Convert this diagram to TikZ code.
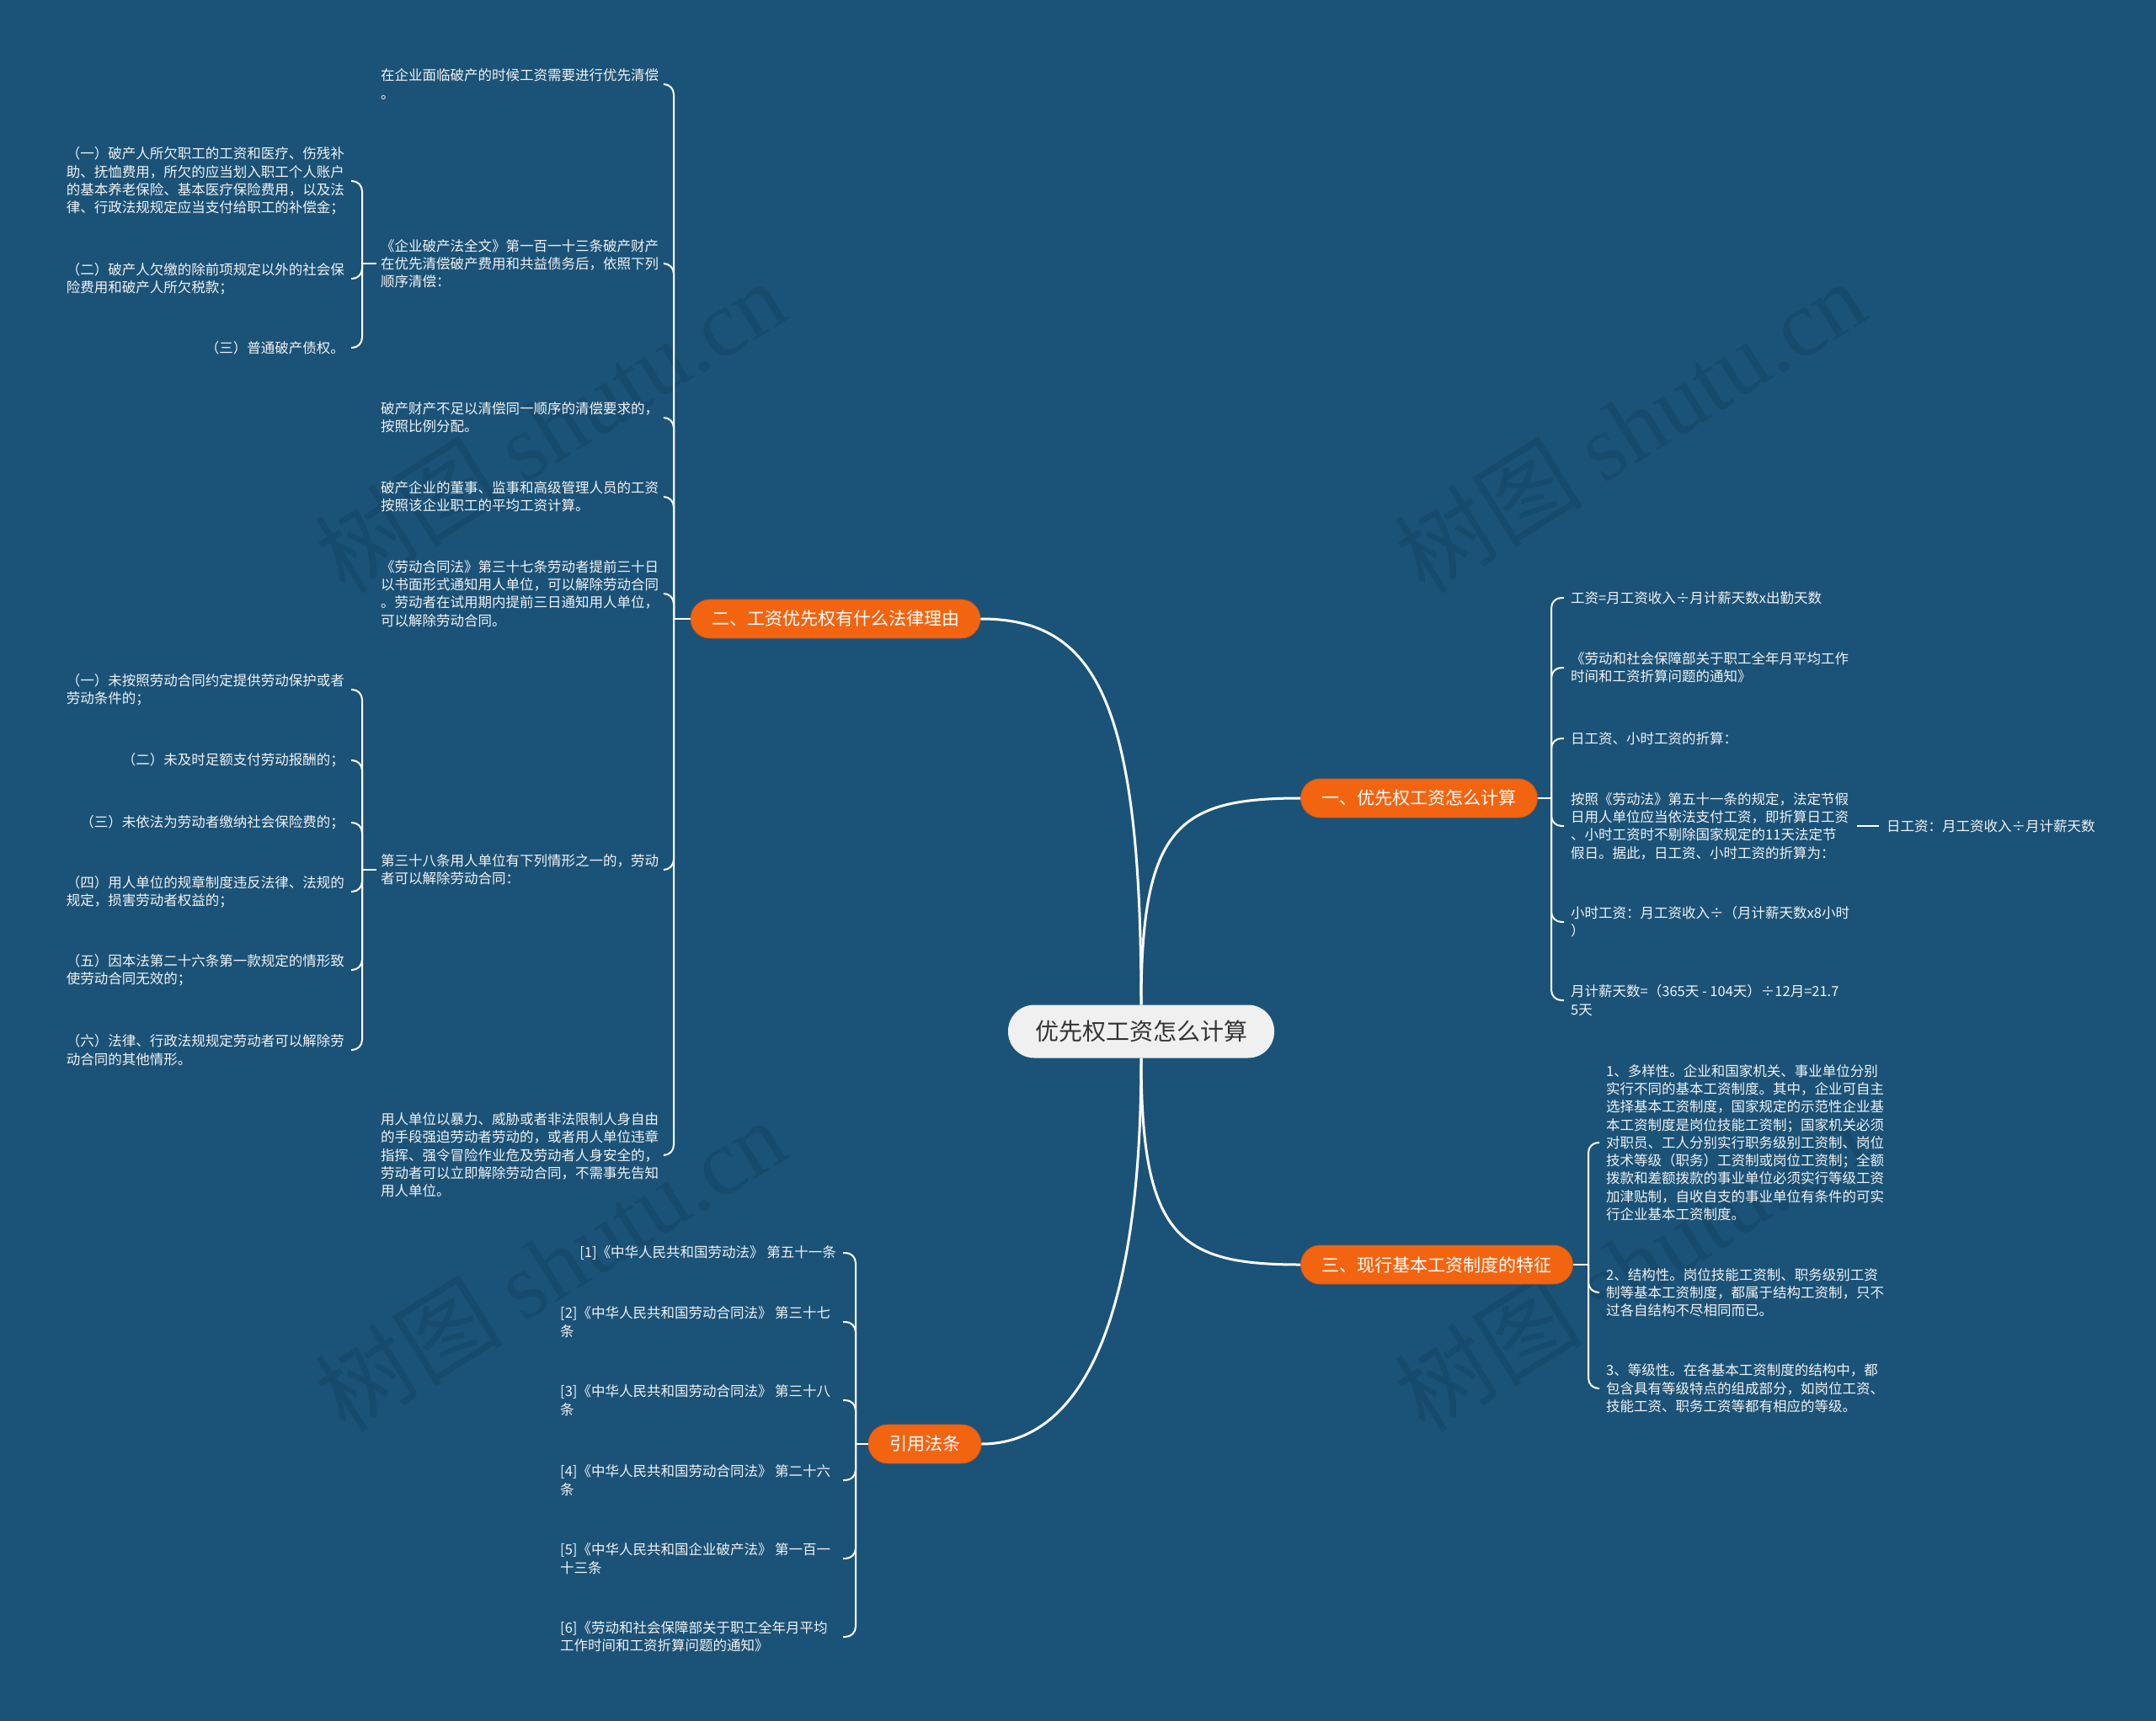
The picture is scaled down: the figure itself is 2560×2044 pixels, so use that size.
\documentclass[tikz,border=0pt]{standalone}
\usepackage{fontspec}
\setmainfont{Noto Sans CJK SC}
\newfontfamily\wmlatin{Liberation Serif}
\definecolor{bg}{RGB}{27,83,120}
\definecolor{org}{RGB}{243,100,17}
\definecolor{ctrfill}{RGB}{240,240,240}
\definecolor{ctrtext}{RGB}{51,51,51}
\definecolor{leaftext}{RGB}{242,242,242}
\definecolor{wm}{RGB}{23,75,110}
\begin{document}
\begin{tikzpicture}[x=1pt,y=-1pt,
  leaf/.style={inner sep=0pt, align=left, text=leaftext, font=\fontsize{16.5}{21.3}\selectfont},
  branch/.style={fill=org, draw=org!88!black, line width=0.8pt, text=white, rounded corners=23pt, minimum height=46pt, inner xsep=25pt, inner ysep=0pt, font=\fontsize{21}{25}\selectfont},
  ctrbox/.style={fill=ctrfill, text=ctrtext, rounded corners=31pt, minimum height=63pt, inner xsep=32pt, inner ysep=0pt, font=\fontsize{28}{32}\selectfont},
  mainline/.style={draw=white, line width=3pt},
  subline/.style={draw=white, line width=2pt},
  brace/.style={draw=white, line width=2pt, rounded corners=12pt},
  wmark/.style={text=wm, rotate=32, font=\fontsize{112}{114}\selectfont}
]
\useasboundingbox (0,0) rectangle (2560,2044);
\fill[bg] (0,0) rectangle (2560,2044);

% watermarks
\node[wmark] (w1) at (653,506) {树图 {\wmlatin shutu.cn}};
\node[wmark] (w2) at (1935,506) {树图 {\wmlatin shutu.cn}};
\node[wmark] (w3) at (653,1502) {树图 {\wmlatin shutu.cn}};
\node[wmark] (w4) at (1935,1502) {树图 {\wmlatin shutu.cn}};

% central and branch nodes
\node[ctrbox] (C) at (1355,1225) {优先权工资怎么计算};
\node[branch] (b1) at (1685,948) {一、优先权工资怎么计算};
\node[branch] (b2) at (992,735) {二、工资优先权有什么法律理由};
\node[branch] (b3) at (1706,1502) {三、现行基本工资制度的特征};
\node[branch] (b4) at (1098,1715) {引用法条};

% branch 2 children
\node[leaf, anchor=west] (c21) at (452,100) {在企业面临破产的时候工资需要进行优先清偿\\。};
\node[leaf, anchor=west] (c22) at (452,313) {《企业破产法全文》第一百一十三条破产财产\\在优先清偿破产费用和共益债务后，依照下列\\顺序清偿：};
\node[leaf, anchor=west] (c23) at (452,496) {破产财产不足以清偿同一顺序的清偿要求的，\\按照比例分配。};
\node[leaf, anchor=west] (c24) at (452,590) {破产企业的董事、监事和高级管理人员的工资\\按照该企业职工的平均工资计算。};
\node[leaf, anchor=west] (c25) at (452,705) {《劳动合同法》第三十七条劳动者提前三十日\\以书面形式通知用人单位，可以解除劳动合同\\。劳动者在试用期内提前三日通知用人单位，\\可以解除劳动合同。};
\node[leaf, anchor=west] (c26) at (452,1033) {第三十八条用人单位有下列情形之一的，劳动\\者可以解除劳动合同：};
\node[leaf, anchor=west] (c27) at (452,1372) {用人单位以暴力、威胁或者非法限制人身自由\\的手段强迫劳动者劳动的，或者用人单位违章\\指挥、强令冒险作业危及劳动者人身安全的，\\劳动者可以立即解除劳动合同，不需事先告知\\用人单位。};

% grandchildren of c22
\node[leaf, anchor=east] (g1) at (409,215) {（一）破产人所欠职工的工资和医疗、伤残补\\助、抚恤费用，所欠的应当划入职工个人账户\\的基本养老保险、基本医疗保险费用，以及法\\律、行政法规规定应当支付给职工的补偿金；};
\node[leaf, anchor=east] (g2) at (409,331) {（二）破产人欠缴的除前项规定以外的社会保\\险费用和破产人所欠税款；};
\node[leaf, anchor=east] (g3) at (409,413) {（三）普通破产债权。};

% grandchildren of c26
\node[leaf, anchor=east] (h1) at (409,819) {（一）未按照劳动合同约定提供劳动保护或者\\劳动条件的；};
\node[leaf, anchor=east] (h2) at (409,903) {（二）未及时足额支付劳动报酬的；};
\node[leaf, anchor=east] (h3) at (409,977) {（三）未依法为劳动者缴纳社会保险费的；};
\node[leaf, anchor=east] (h4) at (409,1059) {（四）用人单位的规章制度违反法律、法规的\\规定，损害劳动者权益的；};
\node[leaf, anchor=east] (h5) at (409,1152) {（五）因本法第二十六条第一款规定的情形致\\使劳动合同无效的；};
\node[leaf, anchor=east] (h6) at (409,1247) {（六）法律、行政法规规定劳动者可以解除劳\\动合同的其他情形。};

% branch 4 children
\node[leaf, anchor=east] (r1) at (993,1488) {[1]《中华人民共和国劳动法》 第五十一条};
\node[leaf, anchor=west] (r2) at (665,1570) {[2]《中华人民共和国劳动合同法》 第三十七\\条};
\node[leaf, anchor=west] (r3) at (665,1663) {[3]《中华人民共和国劳动合同法》 第三十八\\条};
\node[leaf, anchor=west] (r4) at (665,1758) {[4]《中华人民共和国劳动合同法》 第二十六\\条};
\node[leaf, anchor=west] (r5) at (665,1851) {[5]《中华人民共和国企业破产法》 第一百一\\十三条};
\node[leaf, anchor=west] (r6) at (665,1944) {[6]《劳动和社会保障部关于职工全年月平均\\工作时间和工资折算问题的通知》};

% branch 1 children
\node[leaf, anchor=west] (a1) at (1865,710) {工资=月工资收入÷月计薪天数x出勤天数};
\node[leaf, anchor=west] (a2) at (1865,793) {《劳动和社会保障部关于职工全年月平均工作\\时间和工资折算问题的通知》};
\node[leaf, anchor=west] (a3) at (1865,877) {日工资、小时工资的折算：};
\node[leaf, anchor=west] (a4) at (1865,981) {按照《劳动法》第五十一条的规定，法定节假\\日用人单位应当依法支付工资，即折算日工资\\、小时工资时不剔除国家规定的11天法定节\\假日。据此，日工资、小时工资的折算为：};
\node[leaf, anchor=west] (a5) at (1865,1095) {小时工资：月工资收入÷（月计薪天数x8小时\\）};
\node[leaf, anchor=west] (a6) at (1865,1188) {月计薪天数=（365天 - 104天）÷12月=21.7\\5天};
\node[leaf, anchor=west] (d1) at (2240,981) {日工资：月工资收入÷月计薪天数};

% branch 3 children
\node[leaf, anchor=west] (t1) at (1907,1357) {1、多样性。企业和国家机关、事业单位分别\\实行不同的基本工资制度。其中，企业可自主\\选择基本工资制度，国家规定的示范性企业基\\本工资制度是岗位技能工资制；国家机关必须\\对职员、工人分别实行职务级别工资制、岗位\\技术等级（职务）工资制或岗位工资制；全额\\拨款和差额拨款的事业单位必须实行等级工资\\加津贴制，自收自支的事业单位有条件的可实\\行企业基本工资制度。};
\node[leaf, anchor=west] (t2) at (1907,1535) {2、结构性。岗位技能工资制、职务级别工资\\制等基本工资制度，都属于结构工资制，只不\\过各自结构不尽相同而已。};
\node[leaf, anchor=west] (t3) at (1907,1649) {3、等级性。在各基本工资制度的结构中，都\\包含具有等级特点的组成部分，如岗位工资、\\技能工资、职务工资等都有相应的等级。};

% junction coordinates
\coordinate (j2) at (800,735);
\coordinate (jg) at (430,313);
\coordinate (jh) at (430,1033);
\coordinate (j4) at (1016,1715);
\coordinate (j1) at (1842,948);
\coordinate (j3) at (1886,1502);

% main connectors
\draw[mainline] (C.north) .. controls (1355,830) and (1300,735) .. (b2.east);
\draw[mainline] (C.north) .. controls (1355,980) and (1400,948) .. (b1.west);
\draw[mainline] (C.south) .. controls (1355,1470) and (1400,1502) .. (b3.west);
\draw[mainline] (C.south) .. controls (1355,1620) and (1260,1715) .. (b4.east);

% branch 2 brace
\draw[subline] (b2.west) -- (j2);
\foreach \c in {c21,c22,c23,c24,c25,c26,c27}
  \draw[brace] (j2) |- ([xshift=7pt]\c.east);

% c22 brace
\draw[subline] ([xshift=-5pt]c22.west) -- (jg);
\foreach \c in {g1,g2,g3}
  \draw[brace] (jg) |- ([xshift=8pt]\c.east);

% c26 brace
\draw[subline] ([xshift=-5pt]c26.west) -- (jh);
\foreach \c in {h1,h2,h3,h4,h5,h6}
  \draw[brace] (jh) |- ([xshift=8pt]\c.east);

% branch 4 brace
\draw[subline] (b4.west) -- (j4);
\draw[brace] (j4) |- ([xshift=8pt]r1.east);
\foreach \c in {r2,r3,r4,r5,r6}
  \draw[brace] (j4) |- ([xshift=1001pt-993pt]\c.east -| r1.east);

% branch 1 brace
\draw[subline] (b1.east) -- (j1);
\foreach \c in {a1,a2,a3,a4,a5,a6}
  \draw[brace] (j1) |- ([xshift=-8pt]\c.west);
\draw[subline, shorten <=10pt, shorten >=9pt] (a4.east) -- (d1.west);

% branch 3 brace
\draw[subline] (b3.east) -- (j3);
\foreach \c in {t1,t2,t3}
  \draw[brace] (j3) |- ([xshift=-8pt]\c.west);
\end{tikzpicture}
\end{document}
